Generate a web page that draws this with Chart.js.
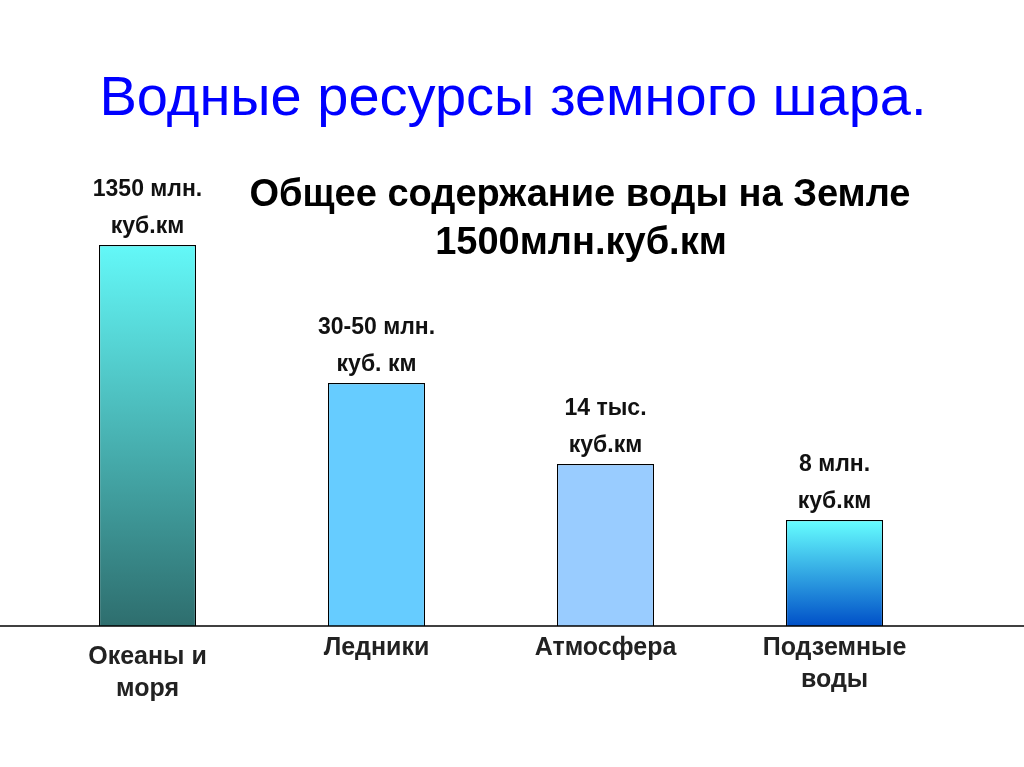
<!DOCTYPE html>
<html><head><meta charset="utf-8">
<script src="https://cdn.jsdelivr.net/npm/chart.js@4"></script>
<style>html,body{margin:0;padding:0;background:#fff}#w{width:1024px;height:767px}</style>
</head><body><div id="w"><canvas id="c"></canvas></div>
<script>
const categories = [["Океаны и","моря"],["Ледники"],["Атмосфера"],["Подземные","воды"]];
const valueLabels = [["1350 млн.","куб.км"],["30-50 млн.","куб. км"],["14 тыс.","куб.км"],["8 млн.","куб.км"]];
// schematic bar heights as drawn on the slide (not proportional)
const barHeights = [381, 243, 162, 106];
const titleText = "Водные ресурсы земного шара.";
const subtitleLines = ["Общее содержание воды на Земле","1500млн.куб.км"];

function grad(ctx, area, top, bottom){
  if(!area) return top;
  const g = ctx.createLinearGradient(0, area.top, 0, area.bottom);
  g.addColorStop(0, top); g.addColorStop(1, bottom); return g;
}
const deco = {
  id:'deco',
  afterDraw(chart){
    const c = chart.ctx, y = chart.scales.y, x = chart.scales.x;
    c.save();
    const y0 = y.getPixelForValue(0);
    c.strokeStyle='#000'; c.lineWidth=1.5;
    c.beginPath(); c.moveTo(0,y0); c.lineTo(1024,y0); c.stroke();
    c.textAlign='center'; c.textBaseline='middle';
    c.fillStyle='#0000ff'; c.font='56px "Liberation Sans", Arial';
    c.fillText(titleText, 513, 100);
    c.fillStyle='#000'; c.font='bold 38px "Liberation Sans", Arial';
    c.fillText(subtitleLines[0], 580, 196);
    c.fillText(subtitleLines[1], 581, 244);
    c.font='bold 23px "Liberation Sans", Arial'; c.fillStyle='#111';
    const meta = chart.getDatasetMeta(0);
    meta.data.forEach((b,i)=>{
      const lines = valueLabels[i];
      const yt = b.y;
      c.fillText(lines[0], b.x, yt-55);
      c.fillText(lines[1], b.x, yt-18);
    });
    c.font='bold 25px "Liberation Sans", Arial'; c.fillStyle='#222';
    categories.forEach((lines,i)=>{
      const cx = x.getPixelForValue(i);
      const start = i===0 ? 657 : 648;
      lines.forEach((t,j)=>c.fillText(t, cx, start + j*32));
    });
    c.restore();
  }
};
new Chart(document.getElementById('c'), {
  type:'bar',
  data:{ labels: categories.map(l=>l.join(' ')), datasets:[{
    data: barHeights,
    backgroundColor(ctx){
      const ch = ctx.chart, a = ch.chartArea, i = ctx.dataIndex;
      if(i===0) return grad(ch.ctx, a, '#66ffff', '#2e6e6e');
      if(i===1) return '#66ccff';
      if(i===2) return '#99ccff';
      const g = a ? ch.ctx.createLinearGradient(0, 520, 0, 626) : null;
      if(!g) return '#66ffff';
      g.addColorStop(0,'#66ffff'); g.addColorStop(1,'#0050c8'); return g;
    },
    borderColor:'#000', borderWidth:1.2,
    barPercentage:0.424, categoryPercentage:1
  }]},
  options:{
    responsive:true, maintainAspectRatio:false, animation:false,
    layout:{padding:{left:33, right:75, top:226, bottom:141}},
    plugins:{legend:{display:false}, tooltip:{enabled:false}},
    scales:{
      x:{display:false},
      y:{display:false, min:0, max:400}
    }
  },
  plugins:[deco]
});
</script></body></html>
